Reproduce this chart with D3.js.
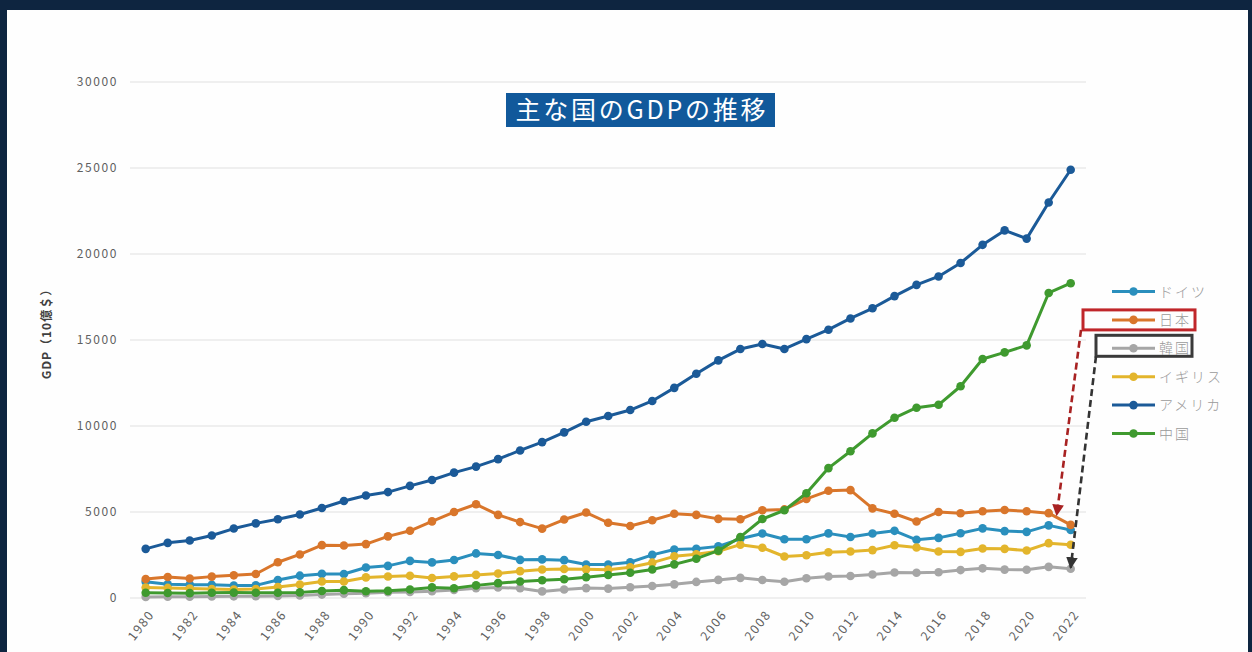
<!DOCTYPE html>
<html>
<head>
<meta charset="utf-8">
<script src="https://cdn.jsdelivr.net/npm/d3@7"></script>
<style>
  html, body { margin: 0; padding: 0; background: #0e2540; }
  svg { display: block; }
</style>
</head>
<body>
<svg id="chart" width="1252" height="652"></svg>
<script>
// Nominal GDP, billions of US dollars, 1980–2022
const years = [1980,1981,1982,1983,1984,1985,1986,1987,1988,1989,1990,1991,1992,1993,1994,1995,1996,1997,1998,1999,2000,2001,2002,2003,2004,2005,2006,2007,2008,2009,2010,2011,2012,2013,2014,2015,2016,2017,2018,2019,2020,2021,2022];

const germany = [950,800,777,770,725,732,1046,1298,1401,1398,1772,1868,2158,2070,2206,2592,2504,2218,2244,2200,1950,1951,2079,2505,2815,2861,3002,3440,3752,3418,3418,3757,3544,3753,3905,3383,3496,3765,4050,3889,3846,4223,3950];
const japan   = [1105,1218,1134,1243,1318,1398,2078,2532,3072,3054,3133,3584,3909,4454,4998,5449,4834,4414,4033,4562,4968,4375,4182,4520,4894,4831,4601,4579,5106,5150,5759,6233,6272,5212,4897,4445,5004,4931,5041,5118,5040,4933,4250];
const korea   = [65,72,78,87,97,101,116,147,199,247,283,330,355,392,463,566,610,570,383,497,576,547,627,702,793,935,1053,1172,1047,944,1144,1253,1278,1370,1484,1466,1500,1623,1725,1651,1644,1811,1700];
const uk      = [604,586,552,520,488,520,636,788,955,962,1197,1248,1295,1159,1255,1344,1420,1561,1653,1687,1665,1649,1785,2054,2422,2544,2717,3100,2925,2412,2485,2664,2707,2785,3065,2933,2700,2683,2878,2857,2760,3188,3100];
const usa     = [2857,3207,3343,3634,4037,4339,4580,4855,5236,5642,5963,6158,6520,6859,7287,7640,8073,8577,9063,9631,10251,10582,10929,11457,12217,13039,13815,14474,14770,14478,15049,15600,16254,16843,17551,18206,18695,19477,20533,21373,20894,22996,24900];
const china   = [306,289,283,305,314,309,301,327,408,457,395,415,494,617,564,734,864,962,1029,1094,1211,1339,1471,1660,1955,2286,2752,3550,4594,5102,6087,7552,8532,9570,10476,11062,11233,12310,13895,14280,14688,17734,18300];

const seriesNames  = ["ドイツ", "日本", "韓国", "イギリス", "アメリカ", "中国"];
const seriesValues = [germany, japan, korea, uk, usa, china];
const seriesColors = ["#2a8fbd", "#d9762b", "#a6a6a6", "#e3b52c", "#1b5a98", "#3f9a2f"];

const yTicks = [0, 5000, 10000, 15000, 20000, 25000, 30000];
const xTickYears = [1980,1982,1984,1986,1988,1990,1992,1994,1996,1998,2000,2002,2004,2006,2008,2010,2012,2014,2016,2018,2020,2022];

const titleText = "主な国のGDPの推移";
const yTitle = "GDP（10億＄）";

const FONT = "'Noto Sans CJK JP', 'Noto Sans', sans-serif";

const svg = d3.select("#chart");

// white panel inside the dark frame
svg.append("rect")
  .attr("x", 7).attr("y", 10)
  .attr("width", 1241).attr("height", 642)
  .attr("fill", "#fefefe");

const x = d3.scaleLinear().domain([1980, 2022]).range([145.7, 1070.7]);
const y = d3.scaleLinear().domain([0, 30000]).range([598, 82]);

// horizontal gridlines
svg.append("g")
  .selectAll("line")
  .data(yTicks)
  .join("line")
  .attr("x1", 130).attr("x2", 1086)
  .attr("y1", d => y(d)).attr("y2", d => y(d))
  .attr("stroke", "#e0e0e0")
  .attr("stroke-width", 1);

// y axis labels
const yAxis = svg.append("g")
  .attr("transform", "translate(118,0)")
  .call(d3.axisLeft(y).tickValues(yTicks).tickSize(0).tickPadding(0).tickFormat(d3.format("d")));
yAxis.select(".domain").remove();
yAxis.selectAll("text")
  .attr("fill", "#606060")
  .style("font-family", FONT)
  .style("font-size", "12px")
  .style("letter-spacing", "1.6px");

// x axis labels, rotated
const xAxis = svg.append("g")
  .attr("transform", "translate(0,600)")
  .call(d3.axisBottom(x).tickValues(xTickYears).tickSize(0).tickFormat(d3.format("d")));
xAxis.select(".domain").remove();
xAxis.selectAll("text")
  .attr("fill", "#606060")
  .attr("text-anchor", "end")
  .attr("dy", "0.35em")
  .attr("transform", "translate(3,10) rotate(-52)")
  .style("font-family", FONT)
  .style("font-size", "12.5px")
  .style("letter-spacing", "1.6px");

// y axis title
svg.append("text")
  .attr("transform", "translate(51,331) rotate(-90)")
  .attr("text-anchor", "middle")
  .attr("fill", "#404040")
  .style("font-family", FONT)
  .style("font-size", "12px")
  .style("font-weight", "600")
  .style("letter-spacing", "1px")
  .text(yTitle);

// series lines and markers
const line = d3.line()
  .x((d, i) => x(years[i]))
  .y(d => y(d));

seriesValues.forEach((vals, s) => {
  const g = svg.append("g");
  g.append("path")
    .datum(vals)
    .attr("d", line)
    .attr("fill", "none")
    .attr("stroke", seriesColors[s])
    .attr("stroke-width", 3)
    .attr("stroke-linejoin", "round");
  g.selectAll("circle")
    .data(vals)
    .join("circle")
    .attr("cx", (d, i) => x(years[i]))
    .attr("cy", d => y(d))
    .attr("r", 4.3)
    .attr("fill", seriesColors[s]);
});

// legend
const legendX0 = 1112, legendX1 = 1155, legendTextX = 1159;
const legendY = d3.scaleLinear().domain([0, 5]).range([291.5, 433.5]);
const legend = svg.append("g");
seriesNames.forEach((name, i) => {
  const ly = legendY(i);
  legend.append("line")
    .attr("x1", legendX0).attr("x2", legendX1)
    .attr("y1", ly).attr("y2", ly)
    .attr("stroke", seriesColors[i])
    .attr("stroke-width", 3);
  legend.append("circle")
    .attr("cx", (legendX0 + legendX1) / 2)
    .attr("cy", ly)
    .attr("r", 4.3)
    .attr("fill", seriesColors[i]);
  legend.append("text")
    .attr("x", legendTextX)
    .attr("y", ly)
    .attr("dy", "0.36em")
    .attr("fill", "#9a9a9a")
    .style("font-family", FONT)
    .style("font-size", "14px")
    .style("font-weight", "300")
    .style("letter-spacing", "2px")
    .text(name);
});

// callout boxes around 日本 and 韓国, with dashed arrows to their 2022 points
const defs = svg.append("defs");
function arrowMarker(id, color) {
  defs.append("marker")
    .attr("id", id)
    .attr("viewBox", "0 0 10 10")
    .attr("refX", 9).attr("refY", 5)
    .attr("markerWidth", 4.5).attr("markerHeight", 4.5)
    .attr("orient", "auto")
    .append("path")
    .attr("d", "M0,0 L10,5 L0,10 Z")
    .attr("fill", color);
}
arrowMarker("arrowRed", "#a82222");
arrowMarker("arrowDark", "#333333");

const jpY = legendY(1), krY = legendY(2);
const last = years.length - 1;

svg.append("rect")
  .attr("x", 1083).attr("y", jpY - 10)
  .attr("width", 112).attr("height", 20)
  .attr("fill", "none")
  .attr("stroke", "#c0262a")
  .attr("stroke-width", 3);
svg.append("line")
  .attr("x1", 1081).attr("y1", jpY + 10)
  .attr("x2", x(years[last]) - 14).attr("y2", y(japan[last - 1]) + 2)
  .attr("stroke", "#a82222")
  .attr("stroke-width", 2.6)
  .attr("stroke-dasharray", "7,4")
  .attr("marker-end", "url(#arrowRed)");

svg.append("rect")
  .attr("x", 1096).attr("y", krY - 13)
  .attr("width", 96).attr("height", 21)
  .attr("fill", "none")
  .attr("stroke", "#3a3a3a")
  .attr("stroke-width", 3);
svg.append("line")
  .attr("x1", 1096).attr("y1", krY + 8)
  .attr("x2", x(years[last])).attr("y2", y(korea[last]) - 1)
  .attr("stroke", "#333333")
  .attr("stroke-width", 2.6)
  .attr("stroke-dasharray", "7,4")
  .attr("marker-end", "url(#arrowDark)");

// title banner
svg.append("rect")
  .attr("x", 506).attr("y", 93)
  .attr("width", 269).attr("height", 34)
  .attr("fill", "#11599b");
svg.append("text")
  .attr("x", 640.5).attr("y", 110)
  .attr("dy", "0.36em")
  .attr("text-anchor", "middle")
  .attr("fill", "#ffffff")
  .attr("textLength", 250)
  .attr("lengthAdjust", "spacing")
  .style("font-family", FONT)
  .style("font-size", "25px")
  .text(titleText);
</script>
</body>
</html>
